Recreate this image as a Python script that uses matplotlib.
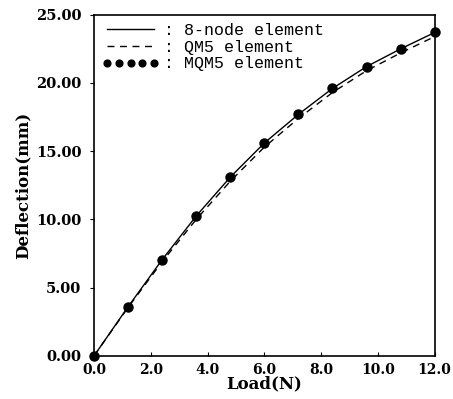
import matplotlib.pyplot as plt
import numpy as np

# load steps (N)
load = [0.0, 1.2, 2.4, 3.6, 4.8, 6.0, 7.2, 8.4, 9.6, 10.8, 12.0]
# deflections (mm)
defl_8node = [0.0, 3.6, 7.05, 10.25, 13.1, 15.6, 17.7, 19.6, 21.2, 22.5, 23.7]
defl_qm5 = [0.0, 3.55, 6.9, 10.0, 12.8, 15.3, 17.4, 19.3, 20.9, 22.2, 23.4]
defl_mqm5 = [0.0, 3.6, 7.05, 10.25, 13.1, 15.6, 17.7, 19.6, 21.2, 22.5, 23.75]

xticks = [0, 2, 4, 6, 8, 10, 12]
yticks = [0, 5, 10, 15, 20, 25]

plt.rcParams['font.family'] = 'DejaVu Serif'

fig = plt.figure(figsize=(4.53, 3.99), dpi=100)
ax = fig.add_axes([0.2075, 0.108, 0.752, 0.855])

ax.plot(load, defl_8node, color='black', lw=1.0, label=': 8-node element')
ax.plot(load, defl_qm5, color='black', lw=1.0, ls=(0, (5, 4)), label=': QM5 element')
ax.plot(load, defl_mqm5, color='black', ls='none', marker='o', markersize=6.5,
        label=': MQM5 element', clip_on=False)

ax.set_xlim(0, 12)
ax.set_ylim(0, 25)
ax.set_xticks(xticks)
ax.set_yticks(yticks)
ax.set_xticklabels([f"{v:.1f}" for v in xticks], fontsize=10, fontweight='bold')
ax.set_yticklabels([f"{v:.2f}" for v in yticks], fontsize=10.5, fontweight='bold')
ax.tick_params(axis='x', direction='in', length=3, pad=5)
ax.tick_params(axis='y', direction='out', length=3, pad=6)
ax.set_xlabel("Load(N)", fontsize=12, fontweight='bold', labelpad=-1)
ax.set_ylabel("Deflection(mm)", fontsize=12, fontweight='bold', labelpad=3)

for s in ax.spines.values():
    s.set_linewidth(1.2)

ax.legend(loc='upper left', frameon=False, numpoints=5, handlelength=3.4,
          handletextpad=0.3, labelspacing=0.1, borderaxespad=0.1,
          markerscale=0.75,
          prop={'family': 'Liberation Mono', 'size': 12})

fig.savefig("out.png", dpi=100)
